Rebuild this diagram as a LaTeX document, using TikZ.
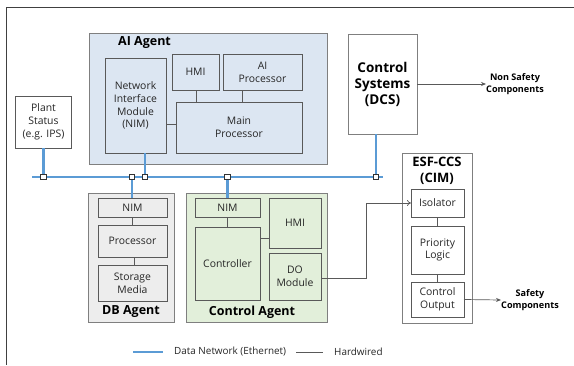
\documentclass[tikz,border=0pt]{standalone}
\usepackage{fontspec}
\setmainfont{Open Sans}
\usetikzlibrary{arrows.meta}
\definecolor{netblue}{HTML}{5B9BD5}
\definecolor{aifill}{HTML}{DCE6F2}
\definecolor{dbfill}{HTML}{EDEDED}
\definecolor{cafill}{HTML}{E2EFDA}
\definecolor{bordergray}{HTML}{7F7F7F}
\definecolor{innergray}{HTML}{595959}
\definecolor{txt}{HTML}{262626}
\tikzset{
  grp/.style={draw=bordergray, line width=0.9pt, inner sep=0pt, outer sep=0pt},
  inbox/.style={draw=innergray, line width=0.7pt, inner sep=0pt, outer sep=0pt, align=center,
     text=txt, font=\fontsize{10.4}{12.8}\selectfont},
  ttl/.style={font=\fontsize{12.5}{15}\selectfont\bfseries, text=black, inner sep=0pt, align=center},
  comp/.style={font=\fontsize{9.1}{11.5}\selectfont\bfseries, text=black, inner sep=0pt, align=center},
  net/.style={draw=netblue, line width=2.6pt},
  wire/.style={draw=innergray, line width=0.7pt},
  jn/.style={draw=black!80, fill=white, line width=0.6pt, minimum size=5.5pt, inner sep=0pt}
}
\begin{document}
\begin{tikzpicture}[x=1pt,y=-1pt]
\useasboundingbox (0,0) rectangle (574,365);
\draw[draw=black!75, line width=0.9pt] (574,7) -- (6,7) -- (6,365);

% AI Agent
\node[grp, fill=aifill, minimum width=238pt, minimum height=131pt] (ai) at (208,98.5) {};
\node[ttl, anchor=west] (aittl) at (118,43) {AI Agent};
\node[inbox, minimum width=61pt, minimum height=95pt] (ainim) at (135.5,105.5) {Network\\Interface\\Module\\(NIM)};
\node[inbox, minimum width=47pt, minimum height=36pt] (aihmi) at (195.5,72) {HMI};
\node[inbox, minimum width=79pt, minimum height=36pt] (aiproc) at (262.5,72) {AI\\Processor};
\node[inbox, minimum width=126pt, minimum height=51pt] (main) at (239,127.5) {Main\\Processor};
\draw[wire] (aihmi.south -| 196,0) -- (main.north -| 196,0);
\draw[wire] (aiproc.south -| 242,0) -- (main.north -| 242,0);
\draw[wire] (ainim.east |- 0,124) -- (main.west |- 0,124);

% Plant status
\node[inbox, fill=white, minimum width=56pt, minimum height=52pt] (plant) at (43.5,122) {Plant\\Status\\(e.g. IPS)};

% DCS
\node[grp, fill=white, minimum width=69pt, minimum height=100pt, align=center,
  font=\fontsize{13.5}{16}\selectfont\bfseries] (dcs) at (382.5,84) {Control\\Systems\\(DCS)};
\node[comp] (nonsafe) at (515,84) {Non Safety\\Components};
\draw[wire, -{Stealth[length=5pt,width=4pt]}] (dcs.east) -- (nonsafe.west);

% ESF-CCS
\node[grp, fill=white, minimum width=70pt, minimum height=170pt] (esf) at (437,238) {};
\node[ttl, font=\fontsize{13}{16}\selectfont\bfseries] (esfttl) at (437,171) {ESF-CCS\\(CIM)};
\node[inbox, fill=white, minimum width=53pt, minimum height=28pt] (iso) at (437.5,203) {Isolator};
\node[inbox, fill=white, minimum width=53pt, minimum height=48pt] (prio) at (437.5,250) {Priority\\Logic};
\node[inbox, fill=white, minimum width=53pt, minimum height=35pt] (cout) at (437.5,299.5) {Control\\Output};
\draw[wire] (iso) -- (prio);
\draw[wire] (prio) -- (cout);
\node[comp] (safe) at (530,300) {Safety\\Components};
\draw[wire, -{Stealth[length=5pt,width=4pt]}] (cout.east) -- (safe.west);

% DB Agent
\node[grp, fill=dbfill, minimum width=86pt, minimum height=129pt] (db) at (131,257.5) {};
\node[ttl] (dbttl) at (131,312) {DB Agent};
\node[inbox, minimum width=69pt, minimum height=19pt] (dbnim) at (132.5,207.5) {NIM};
\node[inbox, minimum width=69pt, minimum height=32pt] (dbproc) at (132.5,241) {Processor};
\node[inbox, minimum width=69pt, minimum height=36pt] (dbsto) at (132.5,283) {Storage\\Media};
\draw[wire] (dbnim.south -| 132,0) -- (dbproc.north -| 132,0);
\draw[wire] (dbproc.south -| 134,0) -- (dbsto.north -| 134,0);

% Control Agent
\node[grp, fill=cafill, minimum width=141pt, minimum height=129pt] (ca) at (256.5,257.5) {};
\node[ttl] (cattl) at (252,312) {Control Agent};
\node[inbox, minimum width=65pt, minimum height=19pt] (cnim) at (227.5,207.5) {NIM};
\node[inbox, minimum width=52pt, minimum height=50pt] (chmi) at (295,223) {HMI};
\node[inbox, minimum width=65pt, minimum height=73pt] (ctrl) at (227.5,263.5) {Controller};
\node[inbox, minimum width=52pt, minimum height=47pt] (cdo) at (295,276.5) {DO\\Module};
\draw[wire] (cnim) -- (ctrl);
\draw[wire] (ctrl.east |- 0,238) -- (chmi.west |- 0,238);

% Hardwired DO -> Isolator
\coordinate (hw1) at (366,278);
\coordinate (hw2) at (366,203);
\draw[wire, -{To[length=4pt,width=6pt]}] (cdo.east |- hw1) -- (hw1) -- (hw2) -- (iso.west);

% Data network bus
\coordinate (busL) at (32,177);
\coordinate (busR) at (383,177);
\coordinate (j1) at (43.5,177);
\coordinate (j2) at (132,177);
\coordinate (j3) at (145,177);
\coordinate (j4) at (227.5,177);
\coordinate (j5) at (376,177);
\draw[net] (busL) -- (busR);
\draw[net] (plant.south) -- (j1);
\draw[net] (j2) -- (dbnim.north -| j2);
\draw[net] (ainim.south -| j3) -- (j3);
\draw[net] (j4) -- (cnim.north);
\draw[net] (dcs.south -| j5) -- (j5);
\foreach \j in {j1,j2,j3,j4,j5} \node[jn] at (\j) {};

% Legend
\coordinate (lg1) at (133,352);
\coordinate (lg2) at (163,352);
\coordinate (lg3) at (296,352);
\coordinate (lg4) at (323,352);
\draw[net, line width=2.4pt] (lg1) -- (lg2);
\node[anchor=west, inner sep=0pt, text=txt, font=\fontsize{9.9}{12}\selectfont] (lgt1) at (174,352) {Data Network (Ethernet)};
\draw[wire] (lg3) -- (lg4);
\node[anchor=west, inner sep=0pt, text=txt, font=\fontsize{9.9}{12}\selectfont] (lgt2) at (334,352) {Hardwired};
\end{tikzpicture}
\end{document}
